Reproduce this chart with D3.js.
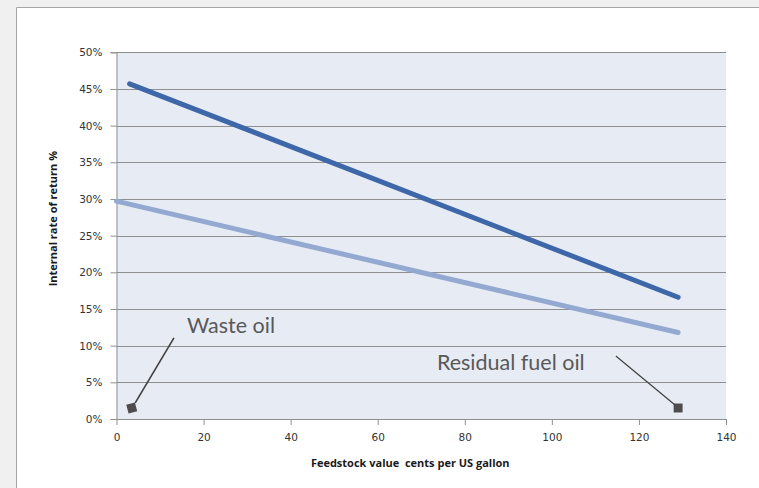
<!DOCTYPE html>
<html>
<head>
<meta charset="utf-8">
<script src="https://cdn.jsdelivr.net/npm/d3@7"></script>
<style>
  html, body { margin: 0; padding: 0; background: #fff; overflow: hidden; }
  ::-webkit-scrollbar { display: none; width: 0; height: 0; }
  svg { display: block; position: fixed; left: 0; top: 0; }
</style>
</head>
<body>
<div id="chart"></div>
<script>
// ── Data ──────────────────────────────────────────────────────────────────
const xTicks = [0, 20, 40, 60, 80, 100, 120, 140];
const yTicks = [0, 5, 10, 15, 20, 25, 30, 35, 40, 45, 50];

// Waste oil (dark) and residual fuel oil (light) IRR lines
const wasteX = [3, 129];
const wasteY = [45.7, 16.6];
const residualX = [0, 129];
const residualY = [29.7, 11.8];

// grey square markers along the bottom
const markerX = [3.5, 129];
const markerY = [1.5, 1.5];

// callout labels, in data units: text anchor + leader line
const noteText = ["Waste oil", "Residual fuel oil"];
const noteX = [16.2, 73.6];
const noteY = [11.7, 6.7];
const leadFromX = [4.3, 128.3];
const leadFromY = [2.2, 1.9];
const leadToX = [13.2, 114.7];
const leadToY = [11.05, 8.6];

// ── Layout ────────────────────────────────────────────────────────────────
const W = 759, H = 488;
const plot = { left: 116.5, right: 726, top: 52.3, bottom: 419 };

const svg = d3.select("#chart").append("svg")
  .attr("width", W).attr("height", H);

// page background, then the white panel (left and top edges only visible)
svg.append("rect")
  .attr("width", W).attr("height", H)
  .attr("fill", "#f0f0f0");
svg.append("rect")
  .attr("x", 17).attr("y", 8)
  .attr("width", W).attr("height", H)
  .attr("fill", "#fff");
svg.append("path")
  .attr("d", `M16.5,${H}V7.5H${W}`)
  .attr("fill", "none")
  .attr("stroke", "#a6a6a6").attr("stroke-width", 1);

const x = d3.scaleLinear().domain([0, 140]).range([plot.left, plot.right]);
const y = d3.scaleLinear().domain([0, 50]).range([plot.bottom, plot.top]);

// plot background
svg.append("rect")
  .attr("x", plot.left).attr("y", plot.top)
  .attr("width", plot.right - plot.left).attr("height", plot.bottom - plot.top)
  .attr("fill", "#e7ebf3");

// gridlines
svg.append("g").selectAll("line")
  .data(yTicks.filter(d => d > 0))
  .join("line")
  .attr("x1", plot.left).attr("x2", plot.right)
  .attr("y1", d => Math.round(y(d)) + 0.5).attr("y2", d => Math.round(y(d)) + 0.5)
  .attr("stroke", "#8f8f8f").attr("stroke-width", 1);

// y axis
const yAxis = svg.append("g")
  .attr("transform", `translate(${plot.left},0)`)
  .call(d3.axisLeft(y).tickValues(yTicks).tickSize(6).tickPadding(8)
    .tickFormat(d => d + "%"));
yAxis.select(".domain").attr("stroke", "#8f8f8f");
yAxis.selectAll(".tick line").attr("stroke", "#8f8f8f");
yAxis.selectAll("text")
  .attr("font-family", "'DejaVu Sans', sans-serif")
  .attr("font-size", 10.5).attr("fill", "#333");

// x axis
const xAxis = svg.append("g")
  .attr("transform", `translate(0,${plot.bottom})`)
  .call(d3.axisBottom(x).tickValues(xTicks).tickSize(6).tickPadding(9)
    .tickSizeOuter(0));
xAxis.select(".domain").attr("stroke", "#8f8f8f");
xAxis.selectAll(".tick line").attr("stroke", "#8f8f8f");
xAxis.selectAll("text")
  .attr("font-family", "'DejaVu Sans', sans-serif")
  .attr("font-size", 10.5).attr("fill", "#333");

// axis titles
svg.append("text")
  .attr("x", (plot.left + plot.right) / 2 - 11).attr("y", 467)
  .attr("text-anchor", "middle")
  .attr("font-family", "'Open Sans', sans-serif")
  .attr("font-size", 11).attr("font-weight", "bold").attr("fill", "#1a1a1a")
  .attr("xml:space", "preserve")
  .text("Feedstock value  cents per US gallon");

svg.append("text")
  .attr("transform", `translate(57,${(plot.top + plot.bottom) / 2 - 17}) rotate(-90)`)
  .attr("text-anchor", "middle")
  .attr("font-family", "'Open Sans', sans-serif")
  .attr("font-size", 11).attr("font-weight", "bold").attr("fill", "#1a1a1a")
  .text("Internal rate of return %");

// ── Lines ─────────────────────────────────────────────────────────────────
const line = d3.line().x(d => x(d[0])).y(d => y(d[1]));

svg.append("path")
  .datum(d3.zip(residualX, residualY))
  .attr("d", line)
  .attr("fill", "none").attr("stroke", "#93a9d1")
  .attr("stroke-width", 5).attr("stroke-linecap", "round");

svg.append("path")
  .datum(d3.zip(wasteX, wasteY))
  .attr("d", line)
  .attr("fill", "none").attr("stroke", "#3d67a8")
  .attr("stroke-width", 5).attr("stroke-linecap", "round");

// ── Markers ───────────────────────────────────────────────────────────────
const sq = d3.symbol().type(d3.symbolSquare).size(80);
svg.append("g").selectAll("path")
  .data(d3.zip(markerX, markerY))
  .join("path")
  .attr("d", sq)
  .attr("transform", (d, i) =>
    `translate(${x(d[0])},${y(d[1])}) rotate(${i === 0 ? -15 : 0})`)
  .attr("fill", "#4d4d4d");

// ── Callouts ──────────────────────────────────────────────────────────────
const notes = svg.append("g");
noteText.forEach(function (t, i) {
  notes.append("line")
    .attr("x1", x(leadFromX[i])).attr("y1", y(leadFromY[i]))
    .attr("x2", x(leadToX[i])).attr("y2", y(leadToY[i]))
    .attr("stroke", "#404040").attr("stroke-width", i === 0 ? 1.6 : 1.2);
  notes.append("text")
    .attr("x", x(noteX[i])).attr("y", y(noteY[i]))
    .attr("font-family", "Lato, sans-serif")
    .attr("font-size", 21.5).attr("fill", "#595959")
    .text(t);
});
</script>
</body>
</html>
